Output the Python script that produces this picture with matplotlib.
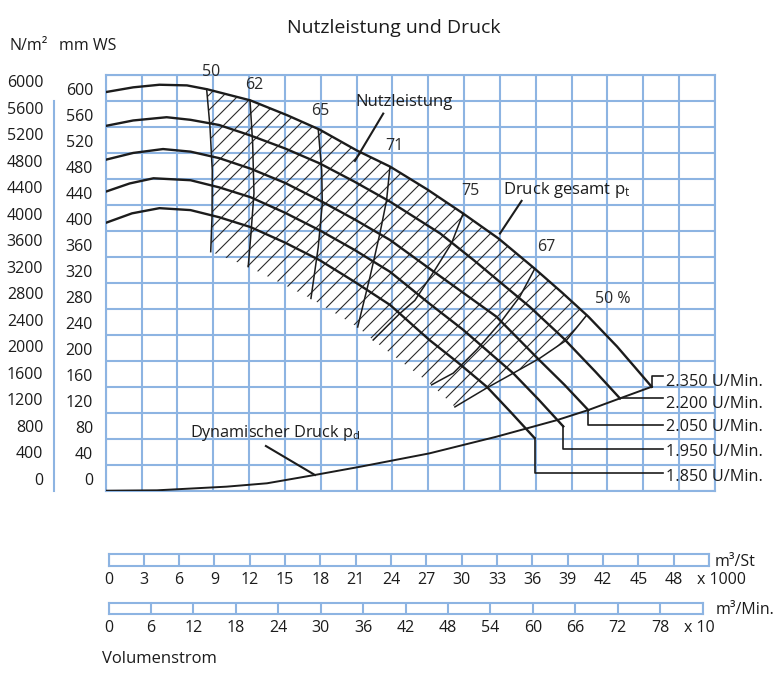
import matplotlib
matplotlib.use("Agg")
import matplotlib.pyplot as plt
import numpy as np
from matplotlib.patches import Polygon
from matplotlib.collections import LineCollection
from matplotlib.transforms import offset_copy

plt.rcParams['font.family'] = ['Open Sans', 'DejaVu Sans']
plt.rcParams['mathtext.default'] = 'regular'

# volume flow in 1000 m3/h, pressure in mm WS
speeds = ['2.350', '2.200', '2.050', '1.950', '1.850']

q_2350 = [0.1, 2.3, 4.5, 6.8, 8.5, 12.1, 15.2, 17.9, 21.0, 23.8, 26.9, 29.9,
          32.9, 35.9, 38.2, 40.4, 42.8, 44.3, 45.7]
p_2350 = [614, 621, 625, 624, 618, 601, 578, 556, 524, 499, 464, 427,
          388, 342, 305, 268, 222, 190, 160]
q_2200 = [0.1, 2.3, 5.1, 7.1, 9.5, 12.1, 15.0, 17.9, 20.8, 23.8, 28.0, 30.8,
          35.5, 38.3, 41.0, 43.05]
p_2200 = [562, 570, 575, 571, 563, 547, 527, 504, 476, 445, 396, 355,
          283, 235, 183, 142]
q_2050 = [0.1, 2.3, 4.8, 7.1, 9.5, 12.1, 15.0, 17.9, 20.8, 23.8, 27.1, 32.7,
          36.3, 38.4, 40.4]
p_2050 = [510, 520, 526, 522, 512, 496, 474, 447, 418, 386, 342, 268,
          201, 163, 124]
q_1950 = [0.1, 2.0, 4.0, 7.1, 9.5, 12.1, 15.0, 17.9, 20.8, 23.8, 27.1, 29.9,
          34.1, 36.2, 38.3]
p_1950 = [461, 473, 481, 478, 467, 452, 428, 401, 371, 337, 288, 248,
          181, 141, 99]
q_1850 = [0.1, 2.2, 4.5, 7.1, 9.5, 12.1, 15.0, 17.9, 20.8, 23.8, 27.1, 29.5,
          31.9, 33.9, 35.9]
p_1850 = [413, 427, 435, 432, 421, 406, 382, 355, 322, 286, 232, 197,
          160, 121, 81]

q_dyn = [0.1, 4.3, 10.1, 13.5, 17.5, 21.3, 27.1, 32.7, 37.8, 40.4, 43.05, 45.7]
p_dyn = [0, 0.6, 6.2, 11.4, 24.2, 36.9, 57.5, 83.1, 108.8, 124.2, 142.2, 160.0]

# efficiency lines (%)
eta_labels = ['50', '62', '65', '71', '75', '67', '50 %']
q_eta50a = [8.45, 8.73, 8.92, 8.90, 8.79]
p_eta50a = [618, 560, 493, 422, 368]
q_eta62 = [12.08, 12.30, 12.41, 12.16, 11.93]
p_eta62 = [601, 535, 458, 396, 345]
q_eta65 = [17.79, 18.08, 18.13, 17.79, 17.18]
p_eta65 = [556, 493, 442, 375, 296]
q_eta71 = [23.79, 23.51, 22.95, 22.12, 21.09]
p_eta71 = [498, 447, 396, 329, 252]
q_eta75 = [29.92, 28.95, 27.56, 25.88, 24.63, 22.39]
p_eta75 = [427, 381, 340, 293, 273, 232]
q_eta67 = [35.92, 34.67, 33.0, 31.05, 29.09, 27.28]
p_eta67 = [342, 299, 258, 217, 181, 163]
q_eta50b = [40.25, 38.58, 36.34, 33.83, 31.88, 29.23]
p_eta50b = [270, 232, 204, 178, 158, 129]

mmws_ticks = list(range(0, 601, 40))
nm2_ticks = list(range(0, 6001, 400))
m3h_labels = [str(v) for v in range(0, 49, 3)]
m3min_labels = [str(v) for v in range(0, 79, 6)]

BLUE = '#8db4e2'
INK = '#1c1c1c'
W, H = 779, 674

fig = plt.figure(figsize=(W / 100, H / 100), dpi=100)


def fbox(x0, y0, x1, y1):
    return [x0 / W, 1 - y1 / H, (x1 - x0) / W, (y1 - y0) / H]


ax = fig.add_axes(fbox(105.7, 75, 715, 490.7))
ax.set_xlim(0, 51)
ax.set_ylim(0, 640)
ax.set_xticks(range(0, 52, 3))
ax.set_yticks(range(0, 641, 40))
ax.tick_params(length=0, labelbottom=False, labelleft=False)
ax.grid(True, color=BLUE, lw=1.5)
ax.set_axisbelow(True)
for s in ax.spines.values():
    s.set_color(BLUE)
    s.set_linewidth(1.5)

# y labels, set a little above their grid lines like the original
ytr = offset_copy(ax.get_yaxis_transform(), fig=fig, x=0, y=10, units='dots')
for v in mmws_ticks:
    ax.text(-0.0208, v, str(v), transform=ytr, ha='right', va='center',
            fontsize=11.5, color=INK)
for v in nm2_ticks:
    ax.text(-0.1024, v / 9.81, str(v), transform=ytr, ha='right', va='center',
            fontsize=11.5, color=INK)
ax.plot([-0.0849, -0.0849], [0, 600], transform=ax.get_yaxis_transform(),
        color=BLUE, lw=1.5, clip_on=False)
fig.text(9.3 / W, 1 - 46 / H, 'N/m²', fontsize=11.5, va='center', color=INK)
fig.text(59.3 / W, 1 - 46 / H, 'mm WS', fontsize=11.5, va='center', color=INK)
fig.text(393.8 / W, 1 - 28 / H, 'Nutzleistung und Druck', fontsize=14,
         ha='center', va='center', color=INK)

# hatched working range (45 degree lines, ~15 px apart, clipped to the region)
verts = list(zip(q_eta50a, p_eta50a))
for q, p in [(q_eta62, p_eta62), (q_eta65, p_eta65), (q_eta71, p_eta71),
             (q_eta75, p_eta75), (q_eta67, p_eta67)]:
    verts.append((q[-1], p[-1]))
verts += list(zip(q_eta50b[::-1], p_eta50b[::-1]))
verts += [(q, p) for q, p in zip(q_2350[::-1], p_2350[::-1])
          if q_eta50a[0] < q < q_eta50b[0]]
region = Polygon(verts, closed=True, fill=False, lw=0)
ax.add_patch(region)
fw, fh = fig.get_size_inches()
x0 = 105.7 / 100
x1 = 715 / 100
segs = [[(x0, x0 + c), (x1, x1 + c)] for c in np.arange(-8, 8, 0.15)]
hatch = LineCollection(segs, colors='#2a2a2a', linewidths=0.8,
                       transform=fig.dpi_scale_trans, zorder=2)
ax.add_collection(hatch, autolim=False)
hatch.set_clip_path(region)

eta_lines = [(q_eta50a, p_eta50a), (q_eta62, p_eta62), (q_eta65, p_eta65),
             (q_eta71, p_eta71), (q_eta75, p_eta75), (q_eta67, p_eta67),
             (q_eta50b, p_eta50b)]
for q, p in eta_lines:
    ax.plot(q, p, color=INK, lw=1.1, zorder=3)

eta_pos = [(8.79, 644.6), (12.41, 624.2), (17.93, 584.6), (24.13, 530.3),
           (30.5, 461.6), (36.9, 374.5), (42.48, 294.9)]
for lab, (x, y) in zip(eta_labels, eta_pos):
    ax.text(x, y, lab, fontsize=11.5, ha='center', va='center', color='#2a2a2a')

# pressure curves per speed
curves = [(q_2350, p_2350), (q_2200, p_2200), (q_2050, p_2050),
          (q_1950, p_1950), (q_1850, p_1850)]
lead_y = [176.5, 142.2, 101.1, 64.2, 26.8]
text_y = [167.7, 133.4, 97.5, 59.1, 21.6]
for (q, p), sp, ly, ty in zip(curves, speeds, lead_y, text_y):
    ax.plot(q, p, color=INK, lw=1.7, zorder=4)
    ax.plot([q[-1], q[-1], 46.66], [p[-1], ly, ly], color=INK, lw=1.2,
            zorder=4, clip_on=False)
    ax.text(46.9, ty, sp + ' U/Min.', fontsize=11.7, va='center', color=INK)

ax.plot(q_dyn, p_dyn, color=INK, lw=1.4, zorder=4)

# annotations
ax.text(20.92, 598.5, 'Nutzleistung', fontsize=12, va='center', color=INK)
ax.plot([23.23, 20.86], [580.6, 507.7], color=INK, lw=1.5)
ax.text(33.25, 462.6, 'Druck gesamt p$_{t}$', fontsize=12, va='center', color=INK)
ax.plot([34.81, 33.0], [446.2, 396.0], color=INK, lw=1.5)
ax.text(7.06, 88.3, 'Dynamischer Druck p$_{d}$', fontsize=11.7, va='center', color=INK)
ax.plot([13.41, 17.51], [68.8, 24.2], color=INK, lw=1.5)

# volume flow scales below the chart
def scale_bar(box, top, step, labels, unit, unit_dx, factor, factor_x):
    b = fig.add_axes(box)
    b.set_xlim(0, top)
    b.set_ylim(0, 1)
    b.set_xticks(range(0, top + 1, step))
    b.set_yticks([])
    b.tick_params(length=0, labelbottom=False)
    b.grid(True, axis='x', color=BLUE, lw=1.5)
    for s in b.spines.values():
        s.set_color(BLUE)
        s.set_linewidth(1.5)
    ltr = offset_copy(b.get_xaxis_transform(), fig=fig, x=0, y=-14.5, units='dots')
    for i, lab in enumerate(labels):
        b.text(i * step, 0, lab, transform=ltr, ha='center', va='center',
               fontsize=11.5, color=INK)
    b.text(factor_x, 0, factor, transform=ltr, ha='center', va='center',
           fontsize=11.5, color=INK)
    utr = offset_copy(b.transAxes, fig=fig, x=unit_dx, y=-2, units='dots')
    b.text(1.0, 0.5, unit, transform=utr, ha='left', va='center',
           fontsize=11.5, color=INK)
    return b


scale_bar(fbox(108.5, 554, 709, 566), 51, 3, m3h_labels, 'm³/St', 6,
          'x 1000', 52.06)
scale_bar(fbox(108.5, 602.7, 702.5, 614), 84, 6, m3min_labels, 'm³/Min.', 13.5,
          'x 10', 83.5)
fig.text(102.5 / W, 1 - 659 / H, 'Volumenstrom', fontsize=12, va='center', color=INK)

fig.savefig('out.png', dpi=100)
